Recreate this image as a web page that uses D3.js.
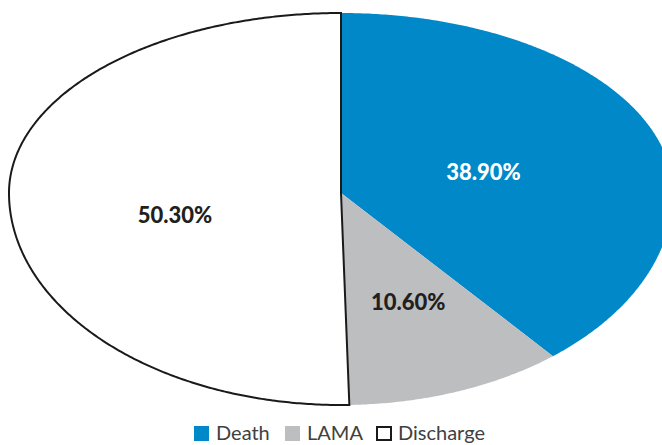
<!DOCTYPE html>
<html><head><meta charset="utf-8">
<script src="https://cdn.jsdelivr.net/npm/d3@7/dist/d3.min.js"></script>
<style>html,body{margin:0;padding:0;background:#fff;overflow:hidden}</style>
</head><body>
<svg id="c" width="662" height="445"></svg>
<script>
const categories = ["Death", "LAMA", "Discharge"];
const values = [38.9, 10.6, 50.3];
const labels = ["38.90%", "10.60%", "50.30%"];
const colors = ["#0088C9", "#BCBEC0", "#FFFFFF"];

const svg = d3.select("#c");
const cx = 341, cy = 193, rx = 332, ryTop = 180, ryBot = 212;

// map polar (angle clockwise from top, radial fraction) onto the stretched pie
function pt(a, f) {
  const s = Math.sin(a), c = Math.cos(a);
  const ry = c >= 0 ? ryTop : ryBot;
  return [cx + rx * s * f, cy - ry * c * f];
}

const pie = d3.pie().sort(null).value(d => d)(values);
const line = d3.line().curve(d3.curveLinearClosed);

function slicePath(d) {
  const pts = [[cx, cy]];
  const n = Math.max(8, Math.ceil((d.endAngle - d.startAngle) * 120));
  for (let i = 0; i <= n; i++) {
    const a = d.startAngle + (d.endAngle - d.startAngle) * i / n;
    pts.push(pt(a, 1));
  }
  return line(pts);
}

const g = svg.append("g");
g.selectAll("path").data(pie).join("path")
  .attr("d", slicePath)
  .attr("fill", (d, i) => colors[i])
  .attr("stroke", (d, i) => i === 2 ? "#1a1a1a" : "none")
  .attr("stroke-width", 2)
  .attr("stroke-linejoin", "miter");

// label placement tweaks (Excel-like)
const frac = [0.45, 0.55, 0.5];
const dyAdj = [6, -1, 20];
const dxAdj = [2, 3, 0];
g.selectAll("text").data(pie).join("text")
  .attr("x", (d, i) => pt((d.startAngle + d.endAngle) / 2, frac[i])[0] + dxAdj[i])
  .attr("y", (d, i) => pt((d.startAngle + d.endAngle) / 2, frac[i])[1] + dyAdj[i])
  .attr("text-anchor", "middle")
  .attr("dominant-baseline", "central")
  .attr("font-family", "Lato, 'Open Sans', sans-serif")
  .attr("font-weight", "900")
  .attr("font-size", 22)
  .attr("fill", (d, i) => i === 0 ? "#ffffff" : "#231F20")
  .text((d, i) => labels[i]);

// legend
const legend = svg.append("g").attr("font-family", "Lato, 'Open Sans', sans-serif").attr("font-size", 20).attr("fill", "#404040");
const legX = [194, 285, 376];
categories.forEach((c, i) => {
  const lg = legend.append("g").attr("transform", `translate(${legX[i]},426)`);
  if (i === 2) {
    lg.append("rect").attr("x", 1).attr("y", 1).attr("width", 14).attr("height", 13)
      .attr("fill", "#fff").attr("stroke", "#1a1a1a").attr("stroke-width", 2);
  } else {
    lg.append("rect").attr("width", 15).attr("height", 15).attr("fill", colors[i]);
  }
  lg.append("text").attr("x", 22).attr("y", 14).text(c);
});
</script>
</body></html>
